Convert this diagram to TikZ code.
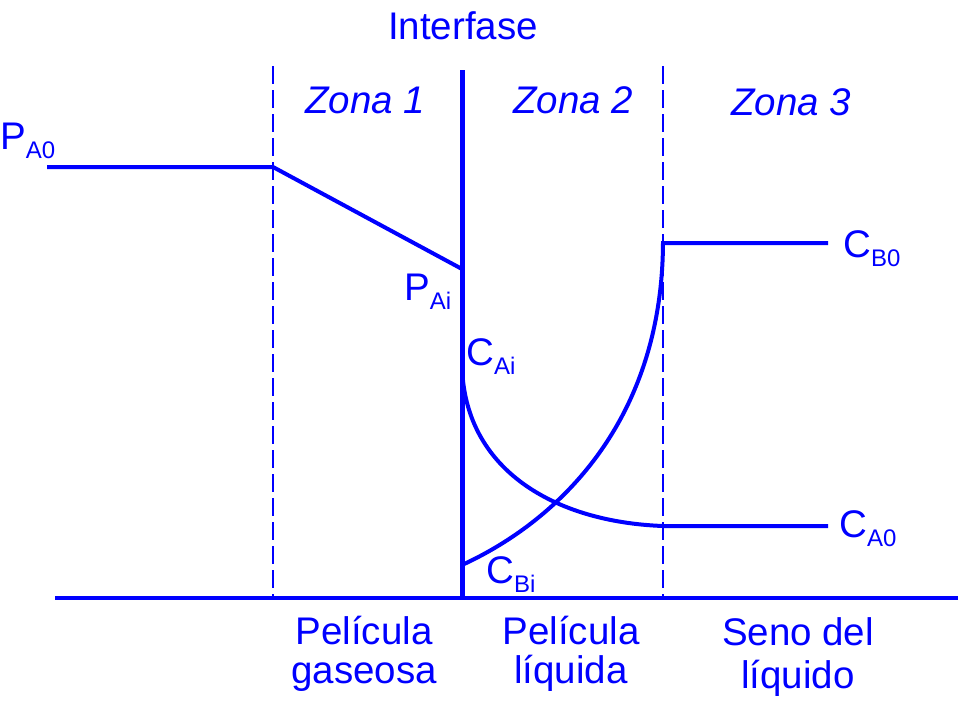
\documentclass[tikz,border=0pt]{standalone}
\usepackage{fontspec}
\setmainfont{Liberation Sans}
\definecolor{pblue}{RGB}{0,0,255}
\newcommand\mysub[2]{#1\raisebox{-9pt}{\fontsize{24}{24}\selectfont #2}}
\tikzset{
  big/.style={font=\fontsize{38.5}{39}\selectfont, text=pblue, inner sep=0pt},
  zone/.style={font=\fontsize{38.5}{39}\selectfont\itshape, text=pblue, inner sep=0pt, anchor=base},
  lbl/.style={font=\fontsize{38.5}{39}\selectfont, text=pblue, inner sep=0pt, anchor=base west},
  curve/.style={draw=pblue, line width=4pt},
  divider/.style={draw=pblue, color=pblue, line width=1.3pt, dash pattern=on 18pt off 6pt},
}
\begin{document}
\begin{tikzpicture}[x=1pt,y=-1pt]
\useasboundingbox (0,0) rectangle (959,702);
% coordinates
\coordinate (itop) at (462,70);
\coordinate (ibot) at (462,598);
\coordinate (d1t) at (273,66);
\coordinate (d1b) at (273,598);
\coordinate (d2t) at (663,66);
\coordinate (d2b) at (663,598);
\coordinate (bl) at (55,598);
\coordinate (br) at (958,598);
\coordinate (pa0) at (47,167);
\coordinate (pa1) at (273,167);
\coordinate (pai) at (462,269);
\coordinate (cai) at (462,365);
\coordinate (ca1) at (663,526);
\coordinate (ca0) at (828,526);
\coordinate (cbi) at (462,565);
\coordinate (cb1) at (663,243);
\coordinate (cb0) at (828,243);
% dividers and axes
\draw[divider] (d1t) -- (d1b);
\draw[divider] (d2t) -- (d2b);
\draw[draw=pblue, line width=3.5pt] (bl) -- (br);
\draw[draw=pblue, line width=5pt] (itop) -- (ibot);
% profiles
\draw[curve, line join=miter] (pa0) -- (pa1) -- (pai);
\draw[curve] (cai) .. controls (464,470) and (555,522) .. (ca1) -- (ca0);
\draw[curve, line join=miter] (cbi) .. controls (560,520) and (662,420) .. (cb1) -- (cb0);
% titles
\node[big, anchor=base] (tInt) at (463,39) {Interfase};
\node[zone] (z1) at (365,113) {Zona 1};
\node[zone] (z2) at (573,113) {Zona 2};
\node[zone] (z3) at (791,115) {Zona 3};
% labels
\node[lbl] (lPA0) at (0,149) {\mysub{P}{A0}};
\node[lbl] (lPAi) at (404,300) {\mysub{P}{Ai}};
\node[lbl] (lCAi) at (466,365) {\mysub{C}{Ai}};
\node[lbl] (lCBi) at (486,583) {\mysub{C}{Bi}};
\node[lbl] (lCB0) at (843,257) {\mysub{C}{B0}};
\node[lbl] (lCA0) at (839,537) {\mysub{C}{A0}};
% bottom labels
\node[big, anchor=base] (b1a) at (364,644) {Película};
\node[big, anchor=base] (b1b) at (364,683) {gaseosa};
\node[big, anchor=base] (b2a) at (571,644) {Película};
\node[big, anchor=base] (b2b) at (571,683) {líquida};
\node[big, anchor=base] (b3a) at (798,645) {Seno del};
\node[big, anchor=base] (b3b) at (798,688) {líquido};
\end{tikzpicture}
\end{document}
